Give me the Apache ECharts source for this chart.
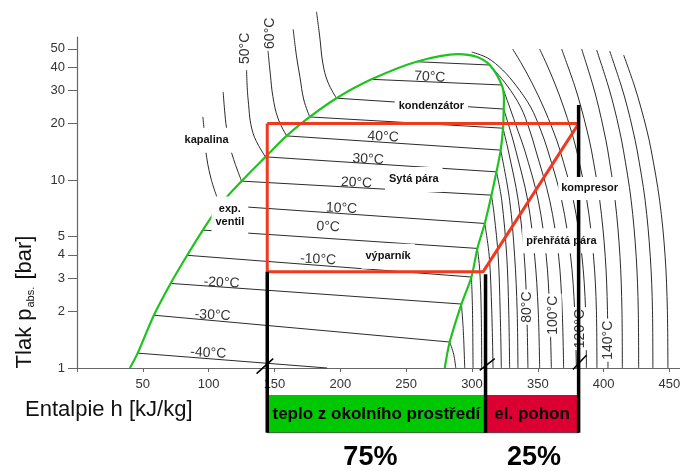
<!DOCTYPE html>
<html>
<head>
<meta charset="utf-8">
<script src="https://cdn.jsdelivr.net/npm/echarts@6/dist/echarts.min.js"></script>
<style>
  html, body { margin: 0; padding: 0; background: #ffffff; }
  #chart { width: 680px; height: 471px; }
</style>
</head>
<body>
<div id="chart"></div>
<script>
// ---------- axes ----------
const enthalpyTicks = [0, 50, 100, 150, 200, 250, 300, 350, 400, 450];
const enthalpyLabels = [50, 100, 150, 200, 250, 300, 350, 400, 450];
const pressureTicks = [1, 2, 3, 4, 5, 10, 20, 30, 40, 50];
const enthalpyMax = 458;
const pressureMax = 57.8;

// ---------- saturation dome [h kJ/kg, p bar] ----------
const saturationCurve = [
  [40.2, 1.0], [46.1, 1.2], [58.4, 1.91], [71.1, 2.82], [83.7, 3.98], [95.6, 5.42],
  [108.5, 7.36], [125.0, 9.88], [143.2, 13.3], [159.2, 17.2], [176.8, 21.7], [197.1, 27.3],
  [223.7, 34.4], [257.8, 42.7], [289.4, 46.9], [303.4, 45.4], [313.5, 41.0], [322.6, 32.1],
  [324.3, 26.7], [324.1, 23.9], [323.6, 18.9], [321.8, 14.45], [318.6, 11.07], [314.8, 8.32],
  [309.7, 5.88], [304.1, 4.33], [299.6, 3.05], [292.0, 2.19], [283.1, 1.375], [279.3, 1.0]
];

// ---------- wet-region isotherms: [h liquid, p liquid, h vapour, p vapour] ----------
const wetTemps = [-40, -30, -20, -10, 0, 10, 20, 30, 40, 50, 60, 70, 80];
const wetIsotherms = [
  [46.1, 1.2, 190.0, 1.0],
  [58.4, 1.91, 283.1, 1.375],
  [71.1, 2.82, 292.0, 2.19],
  [83.7, 3.98, 299.6, 3.05],
  [95.6, 5.42, 304.1, 4.33],
  [108.5, 7.36, 309.7, 5.88],
  [125.0, 9.88, 314.8, 8.32],
  [143.2, 13.3, 318.6, 11.07],
  [159.2, 17.2, 321.8, 14.45],
  [176.8, 21.7, 323.6, 18.9],
  [197.1, 27.3, 324.1, 23.9],
  [223.7, 34.4, 322.6, 32.1],
  [257.8, 42.7, 313.5, 41.0]
];

// ---------- subcooled liquid isotherms ----------
const liquidIsotherms = [
  [[95.6, 21.7], [96.4, 18.9], [97.7, 14.45], [101.7, 10.25], [108.5, 7.36]],
  [[111.0, 29.5], [112.1, 23.6], [113.6, 18.9], [117.4, 14.0], [125.0, 9.88]],
  [[128.8, 38.6], [130.0, 26.7], [133.8, 17.7], [143.2, 13.3]],
  [[145.0, 49.3], [146.9, 36.3], [148.8, 27.8], [152.6, 21.4], [159.2, 17.2]],
  [[164.2, 63.5], [166.6, 46.3], [169.3, 35.5], [172.3, 26.7], [176.8, 21.7]],
  [[181.9, 78.8], [184.4, 57.8], [186.7, 42.0], [190.5, 33.3], [197.1, 27.3]]
];

// ---------- superheated vapour isotherms ----------
const vapourIsotherms = [
  [[283.1, 1.375], [286.1, 1.183], [287.7, 1]],
  [[292.0, 2.185], [293.4, 1.588], [294.5, 1]],
  [[299.6, 3.05], [300.4, 2.03], [300.8, 1]],
  [[304.1, 4.33], [305.9, 3.32], [307.0, 2.03], [307.4, 1]],
  [[309.7, 5.88], [313.1, 3.94], [315.0, 2.03], [316.0, 1]],
  [[314.8, 8.32], [316.9, 6.51], [319.9, 3.94], [321.4, 2.03], [322.3, 1]],
  [[318.6, 11.07], [322.6, 7.82], [326.4, 3.94], [327.9, 2.03], [328.6, 1]],
  [[321.8, 14.45], [328.6, 7.82], [332.4, 3.94], [334.3, 2.03], [334.9, 1]],
  [[323.6, 18.86], [327.5, 14.45], [335.1, 7.82], [339.7, 3.94], [341.6, 2.03], [342.5, 1]],
  [[324.1, 23.89], [329.0, 18.47], [333.2, 14.45], [342.3, 7.82], [347.6, 3.94], [350.3, 2.03], [351.4, 1]],
  [[322.6, 32.07], [328.6, 24.48], [334.7, 18.47], [340.0, 14.45], [350.3, 7.82], [356.4, 3.94], [359.0, 2.03], [360.3, 1]],
  [[313.5, 41.0], [326.4, 32.07], [337.0, 24.48], [343.8, 18.47], [348.4, 14.45], [359.0, 7.82], [365.8, 3.94], [368.5, 2.03], [369.6, 1]],
  [[299.8, 48.07], [311.9, 44.67], [323.3, 38.56], [333.2, 32.07], [344.6, 24.48], [352.2, 18.47], [357.5, 14.45], [368.1, 7.82], [374.9, 3.94], [378.0, 2.03], [379.3, 1]],
  [[330.9, 49.88], [338.2, 41.0], [346.4, 32.07], [354.3, 24.48], [361.5, 18.47], [366.8, 14.45], [377.0, 7.82], [383.5, 3.94], [386.3, 2.03], [386.9, 1]],
  [[351.4, 49.88], [357.0, 41.0], [363.4, 32.07], [369.6, 24.48], [375.2, 18.47], [379.4, 14.45], [387.2, 7.82], [392.3, 3.94], [394.5, 2.03], [394.9, 1]],
  [[368.1, 49.88], [377.8, 32.07], [382.8, 24.48], [387.3, 18.47], [390.7, 14.45], [397.0, 7.82], [401.2, 3.94], [402.9, 2.03], [403.3, 1]],
  [[383.3, 49.88], [391.8, 32.07], [396.2, 24.48], [400.1, 18.47], [403.1, 14.45], [408.7, 7.82], [412.4, 3.94], [413.9, 2.03], [414.2, 1]],
  [[394.7, 49.27], [403.3, 32.07], [407.9, 24.48], [412.0, 18.47], [415.0, 14.45], [420.9, 7.82], [424.7, 3.94], [426.3, 2.03], [426.6, 1]],
  [[404.6, 48.67], [413.2, 32.07], [418.0, 24.48], [422.2, 18.47], [425.4, 14.45], [431.5, 7.82], [435.4, 3.94], [437.1, 2.03], [437.4, 1]],
  [[415.2, 46.34], [423.2, 32.07], [428.2, 24.48], [432.8, 18.47], [436.1, 14.45], [442.5, 7.82], [446.7, 3.94], [448.4, 2.03], [448.8, 1]]
];

// ---------- heat pump cycle ----------
const cycleLoop = [[144.5, 20], [381.0, 20], [308.4, 3.25], [144.5, 3.25], [144.5, 20]];
// process boundaries dropped to the energy bar: [h, p where the line starts]
const processDrops = [[144.5, 3.25], [310.3, 3.16], [381.0, 25.1]];
// axis break marks on the dropped lines
const breakMarks = [
  [[136.4, 0.934], [149.0, 1.122]],
  [[305.9, 0.972], [317.3, 1.122]],
  [[376.7, 0.981], [386.9, 1.169]]
];
// energy balance bar
const energyFrom = [144.5, 310.3];
const energyTo = [310.3, 381.0];
const energyText = ['teplo z okolního prostředí', 'el. pohon'];
const energyShare = ['75%', '25%'];

// ---------- annotations [text, h, p] ----------
const wetLabels = [
  ['70°C', 267.9, 35.4], ['40°C', 232.5, 17.0], ['30°C', 221.1, 12.9], ['20°C', 212.3, 9.67],
  ['10°C', 200.9, 7.07], ['0°C', 190.7, 5.64], ['-10°C', 183.1, 3.78], ['-20°C', 109.8, 2.84],
  ['-30°C', 103.0, 1.91], ['-40°C', 99.7, 1.2]
];
const verticalTempLabels = [
  ['50°C', 127.5, 50.3], ['60°C', 146.5, 60.5],
  ['80°C', 341.8, 2.11], ['100°C', 362.0, 1.91], ['120°C', 381.8, 1.62], ['140°C', 403.3, 1.405]
];
const regionLabels = [
  ['kapalina', 98.4, 16.3], ['exp.\nventil', 116.1, 6.49], ['kondenzátor', 269.2, 24.8],
  ['Sytá pára', 255.8, 10.09], ['výparník', 236.3, 3.94], ['přehřátá pára', 367.9, 4.75]
];
const compressorLabel = [['kompresor', 389.4, 9.03]];

// ---------- drawing ----------
const FONT = '"Liberation Sans", Arial, Helvetica, sans-serif';
const INK = '#2b2b2b';
const BOX_TOP = 395;
const BOX_BOTTOM = 432.7;
const lg = Math.log10;
const toXY = pts => pts.map(([h, p]) => [h, lg(p)]);

function curve(pts, color, width, z, smooth) {
  return {
    type: 'line', data: toXY(pts), symbol: 'none', smooth: smooth, clip: false,
    silent: true, z: z, animation: false, lineStyle: { color: color, width: width }
  };
}

function textLayer(items, z, style, rotation) {
  return {
    type: 'custom', coordinateSystem: 'cartesian2d', clip: false, silent: true, z: z, animation: false,
    data: items.map(d => [d[1], lg(d[2])]),
    renderItem: (params, api) => {
      const d = items[params.dataIndex];
      const pt = api.coord([api.value(0), api.value(1)]);
      return {
        type: 'text', x: pt[0], y: pt[1], rotation: rotation,
        style: Object.assign({ text: d[0], align: 'center', verticalAlign: 'middle' }, style)
      };
    }
  };
}

const series = [];
liquidIsotherms.forEach(c => series.push(curve(c, INK, 1, 2, 0.4)));
wetIsotherms.forEach(l => series.push(curve([[l[0], l[1]], [l[2], l[3]]], INK, 1, 2, false)));
vapourIsotherms.forEach(c => series.push(curve(c, INK, 1, 2, 0.35)));
series.push(curve(saturationCurve, '#1ec31e', 2.2, 3, 0.3));

series.push(textLayer(wetLabels, 4, { font: '14px ' + FONT, fill: '#333' }, -0.05));
series.push(textLayer(verticalTempLabels, 4, {
  font: '14px ' + FONT, fill: '#333', backgroundColor: '#fff', padding: [1, 2]
}, Math.PI / 2));
series.push(textLayer(regionLabels, 4, {
  font: 'bold 11px ' + FONT, fill: '#111', backgroundColor: '#fff', padding: [6, 4], lineHeight: 13
}, 0));

series.push(curve(cycleLoop, '#f03a1f', 3, 5, false));

// vertical process lines down to the energy bar
series.push({
  type: 'custom', coordinateSystem: 'cartesian2d', clip: false, silent: true, z: 6, animation: false,
  data: processDrops.map(d => [d[0], lg(d[1])]),
  renderItem: (params, api) => {
    const top = api.coord([api.value(0), api.value(1)]);
    return {
      type: 'line',
      shape: { x1: top[0], y1: top[1], x2: top[0], y2: BOX_BOTTOM },
      style: { stroke: '#000', lineWidth: 3.5 }
    };
  }
});
breakMarks.forEach(m => series.push(curve(m, '#000', 1.5, 6, false)));

// energy balance bar with shares
series.push({
  type: 'custom', coordinateSystem: 'cartesian2d', clip: false, silent: true, z: 5, animation: false,
  data: energyFrom.map((h, i) => [h, energyTo[i]]),
  renderItem: (params, api) => {
    const i = params.dataIndex;
    const x1 = api.coord([api.value(0), 0])[0];
    const x2 = api.coord([api.value(1), 0])[0];
    const cx = (x1 + x2) / 2;
    return {
      type: 'group',
      children: [
        { type: 'rect', shape: { x: x1, y: BOX_TOP, width: x2 - x1, height: BOX_BOTTOM - BOX_TOP },
          style: { fill: i === 0 ? '#00c800' : '#dc0032' } },
        { type: 'line', shape: { x1: x1, y1: BOX_BOTTOM, x2: x2, y2: BOX_BOTTOM },
          style: { stroke: '#333', lineWidth: 0.8 } },
        { type: 'text', x: cx, y: (BOX_TOP + BOX_BOTTOM) / 2,
          style: { text: energyText[i], font: 'bold 17px ' + FONT, fill: '#000', align: 'center', verticalAlign: 'middle' } },
        { type: 'text', x: cx - (i === 0 ? 6 : -2), y: 458,
          style: { text: energyShare[i], font: 'bold 27px ' + FONT, fill: '#000', align: 'center', verticalAlign: 'middle' } }
      ]
    };
  }
});

series.push(textLayer(compressorLabel, 7, {
  font: 'bold 11px ' + FONT, fill: '#111', backgroundColor: '#fff', padding: [6, 3]
}, 0));

const chart = echarts.init(document.getElementById('chart'), null, { renderer: 'canvas' });
chart.setOption({
  animation: false,
  backgroundColor: '#ffffff',
  grid: { left: 77, right: 0, top: 37, bottom: 103, containLabel: false, outerBoundsMode: 'none' },
  xAxis: {
    type: 'value', min: 0, max: enthalpyMax,
    axisLine: { lineStyle: { color: '#666', width: 1.2 } },
    axisTick: { show: true, length: 4, customValues: enthalpyTicks, lineStyle: { color: '#666' } },
    axisLabel: { customValues: enthalpyLabels, margin: 10, fontSize: 13, fontFamily: FONT, color: '#333' },
    splitLine: { show: false }
  },
  yAxis: {
    type: 'value', min: 0, max: lg(pressureMax),
    axisLine: { show: true, lineStyle: { color: '#666', width: 1.2 } },
    axisTick: { show: true, length: 9, customValues: pressureTicks.map(lg), lineStyle: { color: '#666' } },
    axisLabel: {
      customValues: pressureTicks.map(lg), margin: 12, fontSize: 13, fontFamily: FONT, color: '#333',
      formatter: v => String(Math.round(Math.pow(10, v)))
    },
    splitLine: { show: false }
  },
  graphic: [
    { type: 'text', x: 25, y: 410, silent: true,
      style: { text: 'Entalpie h [kJ/kg]', font: '22px ' + FONT, fill: '#111', align: 'left', verticalAlign: 'middle' } },
    { type: 'text', x: 25, y: 302, rotation: Math.PI / 2, silent: true,
      style: {
        text: 'Tlak p{s|abs.} [bar]', font: '22px ' + FONT, fill: '#111', align: 'center', verticalAlign: 'middle',
        rich: { s: { font: '11px ' + FONT, fill: '#111', verticalAlign: 'bottom', padding: [0, 1, 0, 1] } }
      } }
  ],
  series: series
});
</script>
</body>
</html>
